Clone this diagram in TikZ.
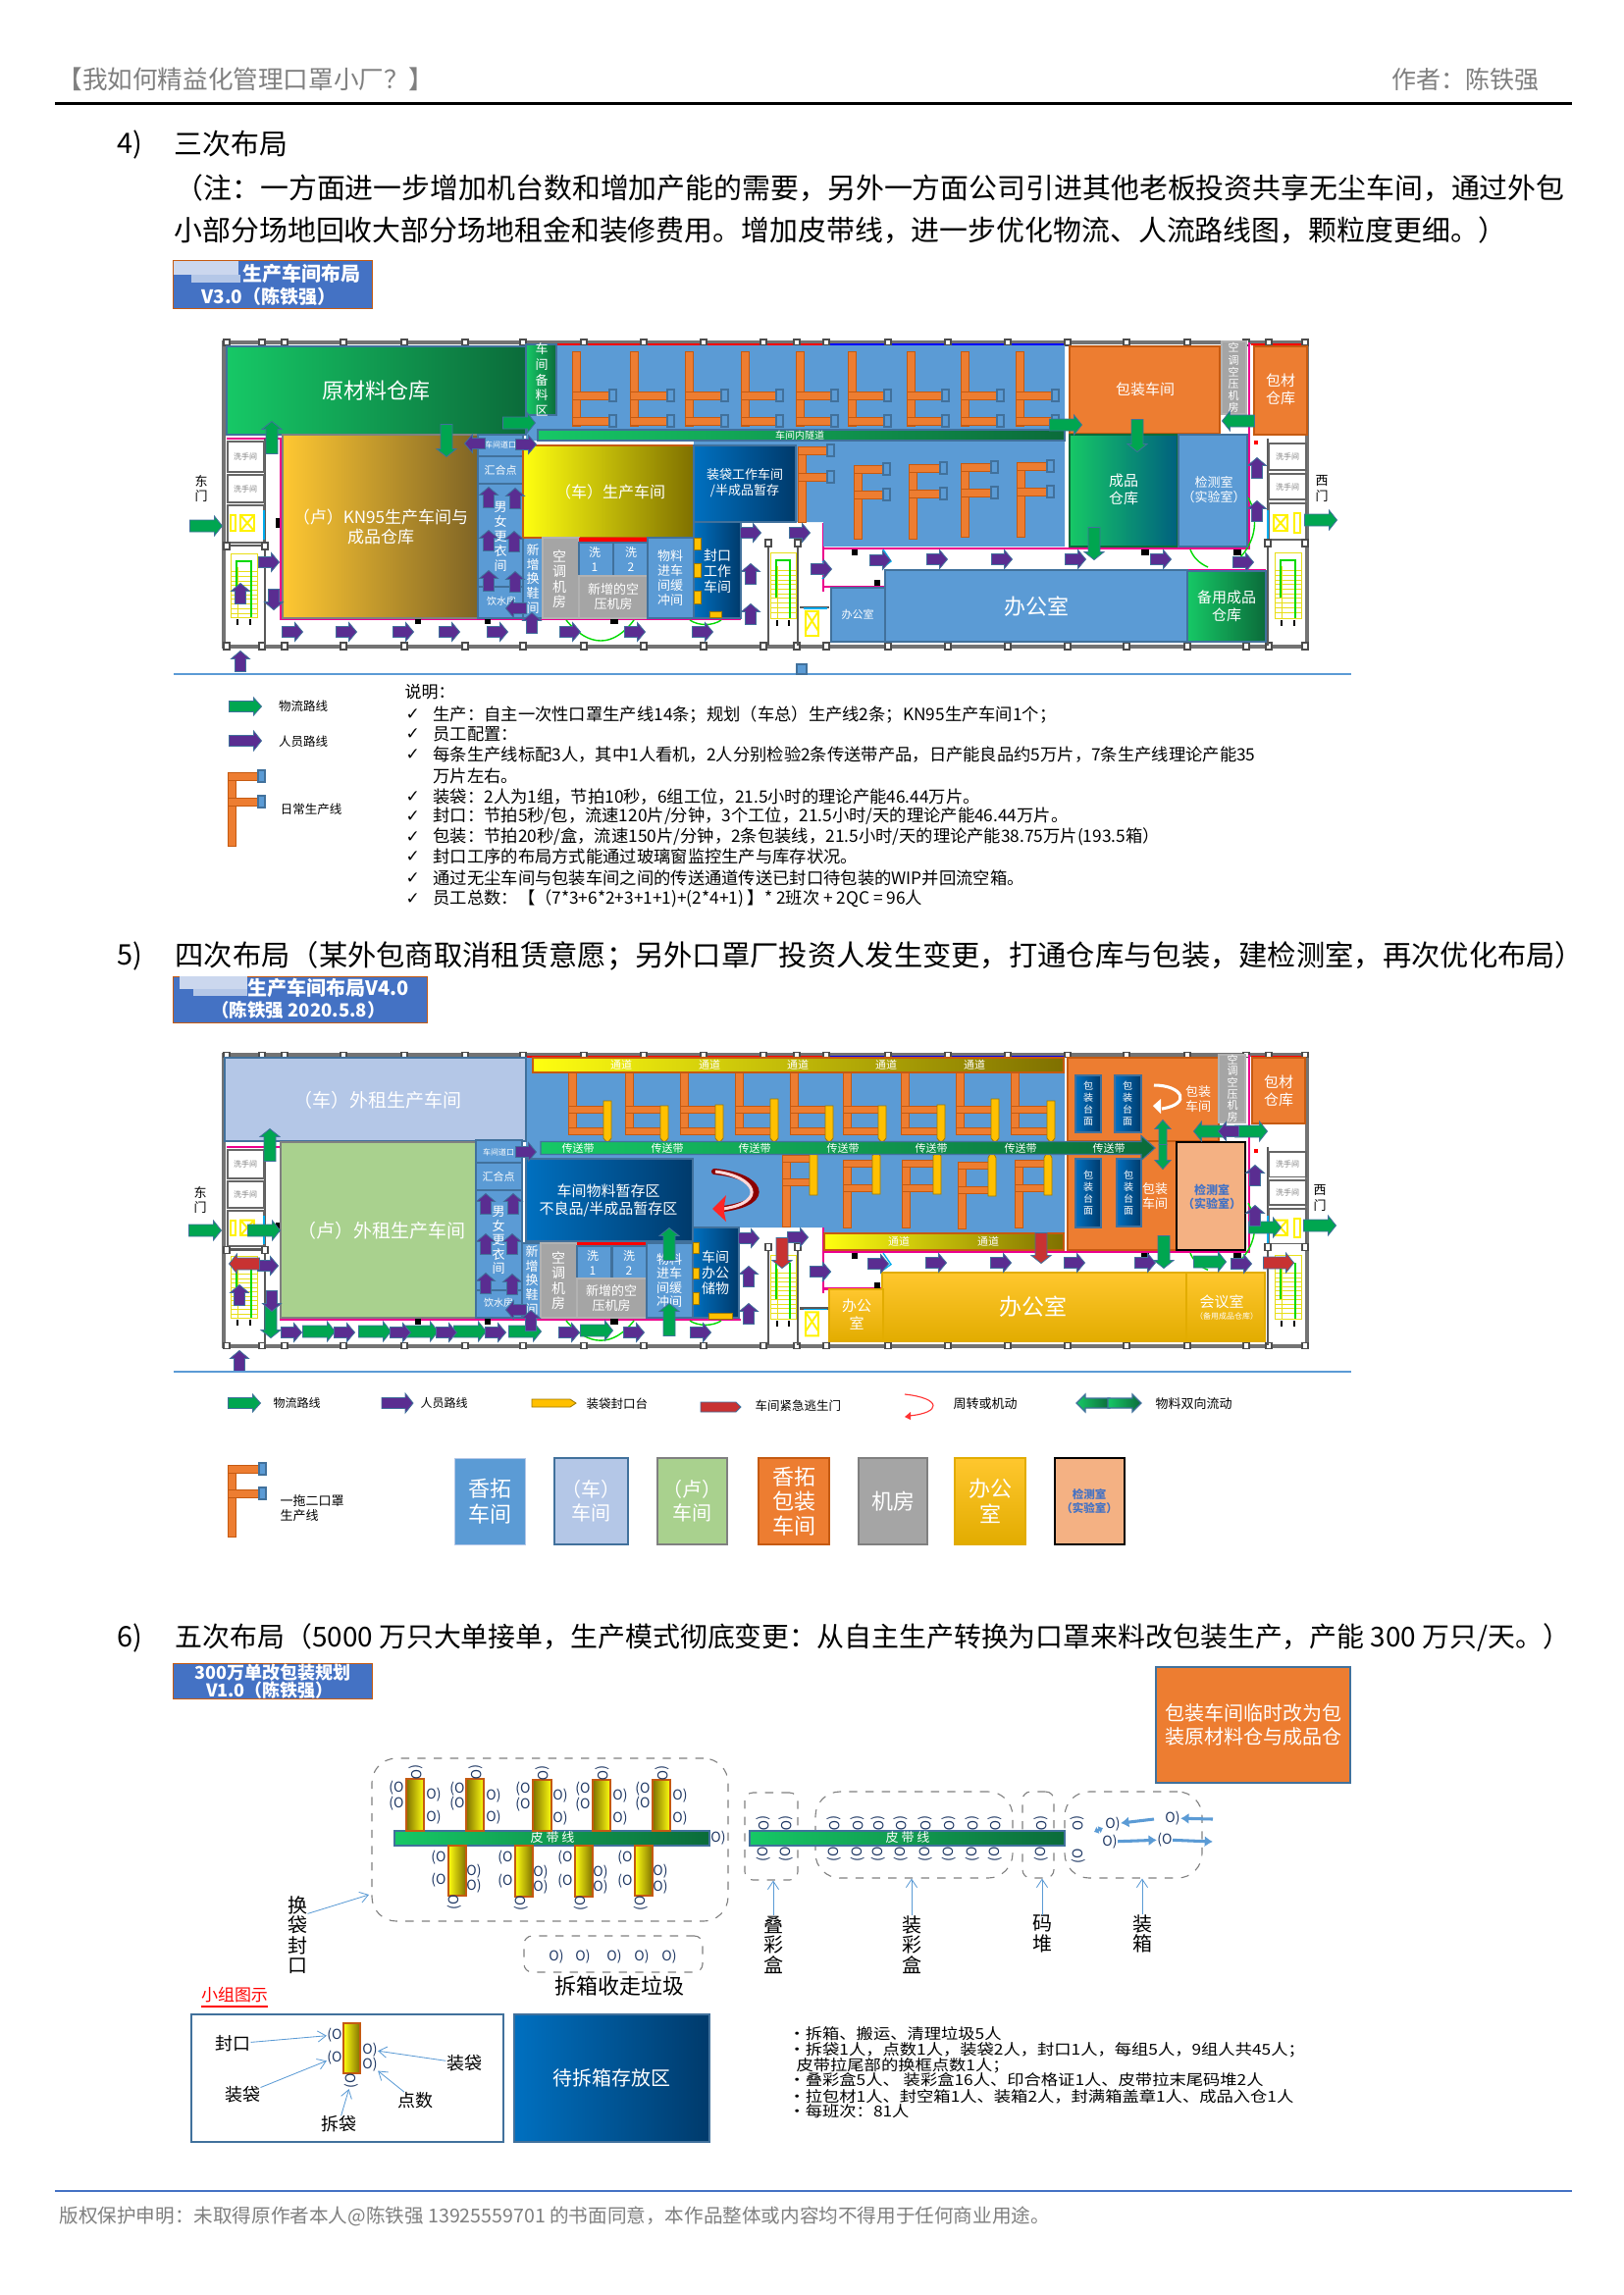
\documentclass[tikz,border=0pt]{standalone}
\usepackage{fontspec}
\setmainfont{Noto Sans CJK SC}
\newfontfamily\symfont{DejaVu Sans}
\newfontfamily\widefont{Noto Sans CJK SC}[FakeStretch=1.13]
\usetikzlibrary{fit,arrows.meta}

\definecolor{roomblue}{HTML}{5B9BD5}
\definecolor{edgeblue}{HTML}{41719C}
\definecolor{barorange}{HTML}{ED7D31}
\definecolor{edgeorange}{HTML}{C55A11}
\definecolor{roomgray}{HTML}{A5A5A5}
\definecolor{deepblueA}{HTML}{0070C0}
\definecolor{deepblueB}{HTML}{003A6B}
\definecolor{greenA}{HTML}{16C866}
\definecolor{greenB}{HTML}{0B6B3A}
\definecolor{pathgreen}{HTML}{00A650}
\definecolor{pathpurple}{HTML}{5A2D91}
\definecolor{pathred}{HTML}{C83232}
\definecolor{titleblue}{HTML}{4472C4}
\definecolor{yellowA}{HTML}{FFFF10}
\definecolor{yellowB}{HTML}{7F7000}
\definecolor{goldA}{HTML}{FFC832}
\definecolor{goldB}{HTML}{7F6425}
\definecolor{stockB}{HTML}{00607F}
\definecolor{lilac}{HTML}{B4C7E7}
\definecolor{leaf}{HTML}{A9D18E}
\definecolor{peach}{HTML}{F4B183}
\definecolor{officeA}{HTML}{FFC72E}
\definecolor{officeB}{HTML}{E2AC00}
\definecolor{tabyellow}{HTML}{FFC000}
\definecolor{inkgray}{HTML}{7F7F7F}
\definecolor{persona}{HTML}{1F3864}

% sizes are given in pixels of the page
\newcommand{\fv}[2]{\fontsize{\fpeval{#2*0.36}}{\fpeval{#2*0.36*#1}}\selectfont}
\newcommand{\fs}[1]{\fv{1.2}{#1}}

\tikzset{
  txt/.style={inner sep=0pt,align=center},
  wtxt/.style={txt,text=white},
  ltxt/.style={inner sep=0pt,anchor=west},
  head/.style={ltxt,font=\fs{28.9}},
  note/.style={ltxt,font=\fs{17.3}},
  staff/.style={ltxt,font=\widefont\fs{15.3}},
  tick/.style={ltxt,font=\symfont\fs{17}},
  blueroom/.style={fill=roomblue,draw=edgeblue,line width=0.5pt},
  grayroom/.style={fill=roomgray,draw=white!70!black,line width=0.4pt},
  orangeroom/.style={fill=barorange,draw=edgeorange,line width=0.5pt},
  deeproom/.style={left color=deepblueA,right color=deepblueB,draw=edgeblue,line width=0.5pt},
  greenroom/.style={left color=greenA,right color=greenB,draw=edgeblue,line width=0.4pt},
  stockroom/.style={left color=greenA,right color=stockB,draw=greenB,line width=0.4pt},
  yellowroom/.style={left color=yellowA,right color=yellowB,draw=edgeorange,line width=0.5pt},
  goldroom/.style={left color=goldA,right color=goldB,draw=gray,line width=0.4pt},
  officeroom/.style={top color=officeA,bottom color=officeB,draw=officeB,line width=0.4pt},
  titlebox/.style={fill=titleblue,draw=edgeorange,line width=0.3pt},
  wall/.style={draw=gray!90!black,line width=1.5pt},
  innerwall/.style={draw=black!65,line width=1pt},
  postbox/.style={fill=white,draw=black!70,line width=0.4pt},
  cellbox/.style={fill=white,draw=black!60,line width=0.7pt},
  pinkline/.style={draw=magenta,line width=0.8pt},
  doorarc/.style={draw=green!85!black,line width=0.5pt},
  cyanline/.style={draw=cyan,line width=0.5pt},
  stairline/.style={draw=yellow!90!black,line width=0.35pt},
  orangebar/.style={fill=barorange,draw=edgeorange,line width=0.3pt},
  bluetab/.style={fill=roomblue,draw=edgeblue,line width=0.4pt},
  yellowtab/.style={fill=tabyellow,draw=officeB!70!black,line width=0.3pt},
  greenarrow/.style={fill=pathgreen,draw=edgeblue,line width=0.3pt},
  purplearrow/.style={fill=pathpurple,draw=edgeblue,line width=0.3pt},
  redarrow/.style={fill=pathred,draw=edgeblue,line width=0.3pt},
  rule/.style={draw=roomblue,line width=0.4pt},
  dashgrp/.style={draw=gray,dashed,rounded corners=9pt,line width=0.4pt,inner sep=0pt},
  dashbox/.style={draw=gray,dashed,rounded corners=3pt,line width=0.4pt,inner sep=0pt},
  thinarrow/.style={draw=roomblue,line width=0.3pt,-{Straight Barb[length=3pt,width=4pt]}},
  boxarrow/.style={draw=roomblue,line width=1.1pt,-{Latex[length=3pt,width=4pt]}},
  swaparrow/.style={draw=roomblue,line width=1.1pt,{Latex[length=1.5pt,width=3pt]}-{Latex[length=1.5pt,width=3pt]}},
  person/.style={inner sep=0pt,font=\fs{14},text=persona},
  band/.style={left color=greenA,right color=greenB,draw=edgeblue,line width=0.4pt},
  olivebar/.style={left color=yellowB,right color=yellowA,draw=edgeorange,line width=0.4pt},
  olivebarb/.style={left color=yellowA,right color=yellowB,draw=edgeorange,line width=0.4pt}
}

% block arrow: style, centre x, centre y, angle, length, head width, shaft width, head length
\newcommand{\blockarrow}[8]{
  \draw[#1,shift={(#2,#3)},rotate=#4] (-#5/2,-#7/2) -- (#5/2-#8,-#7/2) -- (#5/2-#8,-#6/2) -- (#5/2,0) -- (#5/2-#8,#6/2) -- (#5/2-#8,#7/2) -- (-#5/2,#7/2) -- cycle;
}
\newcommand{\parrow}[3]{\blockarrow{purplearrow}{#1}{#2}{#3}{21}{19}{11}{8}}
\newcommand{\garrow}[3]{\blockarrow{greenarrow}{#1}{#2}{#3}{33}{20}{12}{8}}
\newcommand{\rarrow}[3]{\blockarrow{redarrow}{#1}{#2}{#3}{31}{20}{12}{8}}

% production line with blue tabs: x, top, bottom, bar 1, bar 2, end of bars
\newcommand{\lineblue}[6]{
  \draw[orangebar] (#1,#2) rectangle (#1+8,#3);
  \draw[orangebar] (#1,#4) rectangle (#6,#4+8);
  \draw[orangebar] (#1,#5) rectangle (#6,#5+8);
  \draw[bluetab] (#6,#4-2) rectangle (#6+7,#4+10);
  \draw[bluetab] (#6,#5-2) rectangle (#6+7,#5+10);
}
% the same with one yellow tab: x, top, bottom, bar 1, bar 2, end of bars, tab top, tab bottom, tip
\newcommand{\lineyellow}[9]{
  \draw[orangebar] (#1,#2) rectangle (#1+8,#3);
  \draw[orangebar] (#1,#4) rectangle (#6,#4+7);
  \draw[orangebar] (#1,#5) rectangle (#6,#5+7);
  \draw[yellowtab] (#6,#7) -- (#6+8,#7) -- (#6+8,#8) -- (#6+4,#9) -- (#6,#8) -- cycle;
}

% stairs: x1, y1, x2, y2
\newcommand{\stairs}[4]{
  \draw[stairline] (#1,#2) rectangle (#3,#4);
  \foreach \k in {1,...,10} \draw[stairline] (#1,#2+14+\k*4.7) -- (#3,#2+14+\k*4.7);
  \draw[stairline] (#1+7,#2+14) -- (#1+7,#4);
  \draw[stairline] (#3-7,#2+14) -- (#3-7,#4);
  \draw[doorarc] (#1+6,#2+46) -- (#1+6,#2+8) -- (#3-6,#2+8) -- (#3-6,#4);
  \draw[black,line width=0.4pt] (#1+7,#4+2) -- (#1+7,#4+8);
  \draw[black,line width=0.4pt] (#3-7,#4+2) -- (#3-7,#4+8);
}

% walls and corridors that both plans share, in coordinates of the first plan
\newcommand{\planbase}{
  \draw[wall] (228,349) rectangle (1332,659);
  \draw[red,line width=0.8pt] (536,351) -- (842,351);
  \draw[blue,line width=0.8pt] (842,351) -- (1085,351);
  \draw[red,line width=0.8pt] (1275,351) -- (1330,351);
  \foreach \x in {231,267,290,350,412,474,533,595,656,717,778,812,842,905,966,1027,1088,1148,1210,1270,1293,1330} {
    \draw[postbox] (\x-3,346) rectangle (\x+3,352);
    \draw[postbox] (\x-3,655) rectangle (\x+3,662);
  }
  \draw[pinkline] (231,447) -- (286,447) -- (286,631) -- (755,631);
  \draw[pinkline] (839,533) -- (839,603);
  \draw[pinkline] (839,559) -- (1273,559) -- (1273,349);
  \draw[pinkline] (839,598) -- (902,598);
  \draw[pinkline] (902,581) -- (1290,581);
  \draw[innerwall] (270,447) -- (270,658);
  \draw[innerwall] (231,556) -- (270,556);
  \draw[cellbox] (232,450) rectangle (269,481);
  \draw[cellbox] (232,484) rectangle (269,512);
  \draw[cellbox] (232,515) rectangle (269,553);
  \node[txt,font=\fs{8},text=gray] (lwcA) at (250,465) {洗手间};
  \node[txt,font=\fs{8},text=gray] (lwcB) at (250,498) {洗手间};
  \draw[yellow,line width=0.7pt] (235,525) rectangle (240,541);
  \draw[yellow,line width=0.7pt] (245,525) rectangle (259,541) (245,525) -- (259,541) (245,541) -- (259,525);
  \draw[cyanline] (269,520) -- (269,550);
  \fill[black] (281,528) rectangle (285,538);
  \draw[postbox] (228,553) rectangle (234,560);
  \draw[postbox] (267,553) rectangle (273,560);
  \stairs{235}{564}{262}{629}
  \draw[innerwall] (783,553) -- (783,658);
  \draw[innerwall] (813,553) -- (813,658);
  \draw[postbox] (780,550) rectangle (786,557);
  \draw[postbox] (810,550) rectangle (816,557);
  \stairs{785}{563}{811}{630}
  \draw[innerwall] (815,619) -- (845,619);
  \draw[cyanline] (819,620) -- (843,620);
  \draw[yellow,line width=0.7pt] (821,623) rectangle (834,648) (821,623) -- (834,643) (821,643) -- (834,623);
  \draw[innerwall] (1292,447) -- (1292,658);
  \draw[cellbox] (1293,452) rectangle (1331,479);
  \draw[cellbox] (1293,483) rectangle (1331,509);
  \draw[cellbox] (1293,513) rectangle (1331,550);
  \node[txt,font=\fs{8},text=gray] (rwcA) at (1312,465) {洗手间};
  \node[txt,font=\fs{8},text=gray] (rwcB) at (1312,496) {洗手间};
  \draw[yellow,line width=0.7pt] (1298,525) rectangle (1312,541) (1298,525) -- (1312,541) (1298,541) -- (1312,525);
  \draw[yellow,line width=0.7pt] (1319,523) rectangle (1325,543);
  \draw[cyanline] (1292,520) -- (1292,550);
  \draw[postbox] (1289,550) rectangle (1295,557);
  \draw[postbox] (1327,550) rectangle (1333,557);
  \stairs{1299}{563}{1326}{630}
  \draw[doorarc] (577,632) .. controls (600,660) and (625,660) .. (646,632);
  \draw[doorarc] (703,632) .. controls (712,638) and (726,638) .. (735,632);
  \draw[doorarc] (1213,560) .. controls (1216,568) and (1222,574) .. (1231,578);
  \draw[doorarc] (1272,507) .. controls (1282,525) and (1282,550) .. (1262,570);
  \fill[black] (423,630) rectangle (429,636);
  \fill[black] (494,630) rectangle (500,636);
  \fill[black] (622,630) rectangle (630,636);
  \fill[black] (868,560) rectangle (874,566);
  \fill[black] (1163,560) rectangle (1171,566);
  \fill[black] (1257,560) rectangle (1265,566);
  \fill[black] (891,591) rectangle (897,597);
  \fill[red] (1278,449) rectangle (1282,453);
  \draw[cyanline] (900,560) -- (908,572) -- (900,578);
  \draw[cyanline] (838,572) -- (846,580) -- (838,590);
}

\begin{document}
\begin{tikzpicture}[x=0.36pt,y=-0.36pt]
  \useasboundingbox (0,0) rectangle (1654,2339);
  \fill[white] (0,0) rectangle (1654,2339);

  % page head
  \node[ltxt,font=\fs{25.6},text=inkgray] (pagetitle) at (58,81) {【我如何精益化管理口罩小厂？】};
  \node[ltxt,font=\fs{25},text=inkgray] (pageauthor) at (1418,81) {作者：陈铁强};
  \fill[black] (56,104) rectangle (1602,107);

  % section 4
  \node[head] (secA) at (119,147) {4)};
  \node[head] (secAt) at (177,147) {三次布局};
  \node[head] (secAa) at (178,192) {（注：一方面进一步增加机台数和增加产能的需要，另外一方面公司引进其他老板投资共享无尘车间，通过外包};
  \node[head] (secAb) at (177,235) {小部分场地回收大部分场地租金和装修费用。增加皮带线，进一步优化物流、人流路线图，颗粒度更细。）};
  \draw[titlebox] (176,265) rectangle (379,314);
  \fill[white!72!titleblue] (177,266) rectangle (243,280);
  \fill[white!60!titleblue] (195,280) rectangle (245,288);
  \node[wtxt,font=\bfseries\fs{20}] (boxAa) at (307,279) {生产车间布局};
  \node[wtxt,font=\bfseries\fs{19}] (boxAb) at (274,302) {V3.0（陈铁强）};

  % plan one
  \planbase
  \fill[roomblue] (536,352) -- (1085,352) -- (1085,557) -- (839,557) -- (839,532) -- (707,532) -- (707,449) -- (536,449) -- cycle;
  \lineblue{583}{358}{434}{399}{425}{621}
  \lineblue{642}{358}{434}{399}{425}{680}
  \lineblue{698}{358}{434}{399}{425}{735}
  \lineblue{755}{358}{434}{399}{425}{791}
  \lineblue{811}{358}{434}{399}{425}{847}
  \lineblue{864}{358}{434}{399}{425}{901}
  \lineblue{924}{358}{434}{399}{425}{960}
  \lineblue{979}{358}{434}{399}{425}{1016}
  \lineblue{1035}{358}{434}{399}{425}{1072}
  \lineblue{813}{455}{532}{455}{482}{843}
  \lineblue{870}{474}{549}{474}{500}{900}
  \lineblue{926}{473}{549}{473}{499}{958}
  \lineblue{979}{472}{547}{472}{498}{1010}
  \lineblue{1036}{471}{547}{471}{497}{1067}
  \draw[greenroom] (231,353) rectangle (536,443);
  \node[wtxt,font=\fs{22}] (rawstore) at (383,398) {原材料仓库};
  \draw[greenroom] (536,351) rectangle (567,423);
  \node[wtxt,font=\fv{1.2}{13}] (sparearea) at (552,387) {车\\间\\备\\料\\区};
  \draw[greenroom] (548,438) rectangle (1085,449);
  \node[wtxt,font=\fs{10}] (tunnelA) at (815,444) {车间内隧道};
  \draw[goldroom] (288,443) rectangle (487,630);
  \node[wtxt,font=\fs{17}] (kn95) at (388,537) {（卢）KN95生产车间与\\成品仓库};
  \draw[blueroom] (487,443) rectangle (533,465);
  \node[wtxt,font=\fs{8}] (portA) at (510,453) {车间道口};
  \draw[blueroom] (487,465) rectangle (533,493);
  \node[wtxt,font=\fs{11}] (meetA) at (510,479) {汇合点};
  \draw[blueroom] (487,493) rectangle (533,598);
  \node[wtxt,font=\fv{1.15}{13}] (lockerA) at (510,547) {男\\女\\更\\衣\\间};
  \draw[blueroom] (487,598) rectangle (533,630);
  \node[wtxt,font=\fs{10}] (waterA) at (511,613) {饮水房};
  \draw[blueroom] (533,548) rectangle (553,630);
  \node[wtxt,font=\fv{1.15}{13}] (shoesA) at (543,590) {新\\增\\换\\鞋\\间};
  \draw[yellowroom] (533,454) rectangle (707,548);
  \node[wtxt,font=\fs{16}] (workshopA) at (622,501) {（车）生产车间};
  \draw[deeproom] (707,454) rectangle (811,532);
  \node[wtxt,font=\fs{13}] (baggingA) at (759,492) {装袋工作车间\\/半成品暂存};
  \draw[grayroom] (553,548) rectangle (590,630);
  \node[wtxt,font=\fv{1.1}{14}] (acA) at (570,590) {空\\调\\机\\房};
  \fill[red] (590,548) rectangle (660,553);
  \draw[blueroom] (590,553) rectangle (625,587);
  \node[wtxt,font=\fs{12}] (washAa) at (606,570) {洗\\1};
  \draw[blueroom] (625,553) rectangle (660,587);
  \node[wtxt,font=\fs{12}] (washAb) at (643,570) {洗\\2};
  \draw[grayroom] (590,587) rectangle (660,630);
  \node[wtxt,font=\fs{13}] (compA) at (625,608) {新增的空\\压机房};
  \draw[blueroom] (660,548) rectangle (707,630);
  \node[wtxt,font=\fv{1.15}{13}] (bufferA) at (683,589) {物料\\进车\\间缓\\冲间};
  \draw[deeproom] (707,532) rectangle (755,630);
  \node[wtxt,font=\fv{1.15}{14}] (sealA) at (731,582) {封口\\工作\\车间};
  \draw[yellowtab] (707,548) rectangle (714,560);
  \draw[yellowtab] (707,574) rectangle (714,588);
  \draw[yellowtab] (707,602) rectangle (714,615);
  \draw[yellowtab] (723,623) rectangle (735,629);
  \draw[orangeroom] (1090,353) rectangle (1243,442);
  \node[wtxt,font=\fs{15}] (packA) at (1167,397) {包装车间};
  \draw[grayroom] (1245,348) rectangle (1270,422);
  \node[wtxt,font=\fv{1.1}{11}] (acpA) at (1257,385) {空\\调\\空\\压\\机\\房};
  \draw[orangeroom] (1278,353) rectangle (1332,443);
  \node[wtxt,font=\fs{15}] (matA) at (1305,397) {包材\\仓库};
  \draw[stockroom] (1090,443) rectangle (1200,557);
  \node[wtxt,font=\fs{15}] (stockA) at (1145,499) {成品\\仓库};
  \draw[blueroom] (1201,443) rectangle (1271,557);
  \node[wtxt,font=\fs{13}] (labA) at (1237,499) {检测室\\（实验室）};
  \draw[blueroom] (847,599) rectangle (902,654);
  \node[wtxt,font=\fs{11}] (officeAs) at (874,626) {办公室};
  \draw[blueroom] (902,581) rectangle (1210,654);
  \node[wtxt,font=\fs{22}] (officeA) at (1056,618) {办公室};
  \draw[greenroom] (1210,582) rectangle (1290,654);
  \node[wtxt,font=\fs{15}] (spareA) at (1250,618) {备用成品\\仓库};
  \node[txt,font=\fs{13}] (eastA) at (205,498) {东\\门};
  \node[txt,font=\fs{13}] (westA) at (1347,498) {西\\门};

  \garrow{210}{536}{0}
  \garrow{529}{431}{0}
  \garrow{1086}{433}{0}
  \garrow{1346}{530}{0}
  \garrow{277}{446}{90}
  \garrow{455}{449}{270}
  \garrow{1159}{444}{270}
  \garrow{1115}{554}{270}
  \garrow{1262}{429}{180}
  \parrow{298}{644}{0}
  \parrow{353}{644}{0}
  \parrow{411}{644}{0}
  \parrow{458}{644}{0}
  \parrow{507}{644}{0}
  \parrow{581}{644}{0}
  \parrow{647}{644}{0}
  \parrow{716}{644}{0}
  \parrow{765}{543}{0}
  \parrow{815}{543}{0}
  \parrow{274}{573}{0}
  \parrow{837}{580}{0}
  \parrow{897}{571}{0}
  \parrow{955}{570}{0}
  \parrow{1021}{570}{0}
  \parrow{1096}{570}{0}
  \parrow{1183}{570}{0}
  \parrow{1267}{573}{0}
  \parrow{536}{453}{0}
  \parrow{484}{452}{180}
  \parrow{526}{620}{180}
  \parrow{245}{605}{90}
  \parrow{498}{507}{90}
  \parrow{525}{508}{90}
  \parrow{498}{551}{90}
  \parrow{524}{552}{90}
  \parrow{498}{592}{90}
  \parrow{525}{593}{90}
  \parrow{542}{635}{90}
  \parrow{765}{585}{90}
  \parrow{765}{626}{90}
  \parrow{245}{674}{90}
  \parrow{1281}{477}{90}
  \parrow{1281}{521}{90}
  \parrow{279}{611}{270}

  % legend of plan one
  \draw[rule] (177,687) -- (1377,687);
  \fill[roomblue,draw=edgeblue] (812,677) rectangle (822,687);
  \blockarrow{greenarrow}{250}{720}{0}{33}{18}{11}{8}
  \blockarrow{purplearrow}{250}{755}{0}{33}{20}{11}{8}
  \node[txt,font=\fs{12.5}] (legAa) at (309,720) {物流路线};
  \node[txt,font=\fs{12.5}] (legAb) at (309,756) {人员路线};
  \lineblue{232}{787}{862}{787}{813}{263}
  \node[txt,font=\fs{12.5}] (legAc) at (317,825) {日常生产线};
  \node[ltxt,font=\fs{17}] (noteA) at (412,705) {说明：};
  \node[tick] (tickA) at (413,728) {✓};
  \node[note] (noteB) at (441,728) {生产：自主一次性口罩生产线14条；规划（车总）生产线2条；KN95生产车间1个；};
  \node[tick] (tickB) at (413,748) {✓};
  \node[note] (noteC) at (441,748) {员工配置：};
  \node[tick] (tickC) at (413,769) {✓};
  \node[note] (noteD) at (441,769) {每条生产线标配3人，其中1人看机，2人分别检验2条传送带产品，日产能良品约5万片，7条生产线理论产能35};
  \node[note] (noteE) at (441,791) {万片左右。};
  \node[tick] (tickD) at (413,812) {✓};
  \node[note] (noteF) at (441,812) {装袋：2人为1组，节拍10秒，6组工位，21.5小时的理论产能46.44万片。};
  \node[tick] (tickE) at (413,832) {✓};
  \node[note] (noteG) at (441,832) {封口：节拍5秒/包，流速120片/分钟，3个工位，21.5小时/天的理论产能46.44万片。};
  \node[tick] (tickF) at (413,853) {✓};
  \node[note] (noteH) at (441,853) {包装：节拍20秒/盒，流速150片/分钟，2条包装线，21.5小时/天的理论产能38.75万片(193.5箱）};
  \node[tick] (tickG) at (413,873) {✓};
  \node[note] (noteI) at (441,873) {封口工序的布局方式能通过玻璃窗监控生产与库存状况。};
  \node[tick] (tickH) at (413,895) {✓};
  \node[note] (noteJ) at (441,895) {通过无尘车间与包装车间之间的传送通道传送已封口待包装的WIP并回流空箱。};
  \node[tick] (tickI) at (413,916) {✓};
  \node[note] (noteK) at (441,916) {员工总数：【（7*3+6*2+3+1+1)+(2*4+1) 】* 2班次 + 2QC = 96人};

  % section 5
  \node[head] (secB) at (119,974) {5)};
  \node[head,font=\fs{29.3}] (secBt) at (178,974) {四次布局（某外包商取消租赁意愿；另外口罩厂投资人发生变更，打通仓库与包装，建检测室，再次优化布局）};
  \draw[titlebox] (176,995) rectangle (435,1042);
  \fill[white!72!titleblue] (183,995) rectangle (252,1008);
  \fill[white!60!titleblue] (197,1008) rectangle (252,1015);
  \node[wtxt,font=\bfseries\fs{20}] (boxBa) at (335,1007) {生产车间布局V4.0};
  \node[wtxt,font=\bfseries\fs{18.5}] (boxBb) at (304,1029) {（陈铁强 2020.5.8）};

  % plan two
  \begin{scope}[shift={(0,740.6)},yscale=0.958]
    \planbase
  \end{scope}
  \fill[roomblue] (536,1078) -- (1085,1078) -- (1085,1257) -- (840,1257) -- (840,1251) -- (706,1251) -- (706,1181) -- (536,1181) -- cycle;
  \lineyellow{579}{1093}{1156}{1127}{1149}{615}{1122}{1160}{1165}
  \lineyellow{637}{1093}{1156}{1127}{1149}{673}{1127}{1160}{1165}
  \lineyellow{693}{1093}{1156}{1127}{1149}{729}{1126}{1160}{1165}
  \lineyellow{749}{1093}{1156}{1127}{1149}{785}{1120}{1160}{1165}
  \lineyellow{805}{1093}{1156}{1127}{1149}{841}{1127}{1160}{1165}
  \lineyellow{859}{1093}{1156}{1127}{1149}{895}{1127}{1160}{1165}
  \lineyellow{918}{1093}{1156}{1127}{1149}{955}{1126}{1160}{1165}
  \lineyellow{974}{1093}{1156}{1127}{1149}{1010}{1120}{1160}{1165}
  \lineyellow{1030}{1093}{1156}{1127}{1149}{1067}{1122}{1160}{1165}
  \lineyellow{797}{1177}{1250}{1177}{1201}{825}{1218}{1176}{1168}
  \lineyellow{859}{1182}{1251}{1182}{1207}{889}{1217}{1178}{1171}
  \lineyellow{919}{1182}{1251}{1182}{1207}{951}{1217}{1178}{1171}
  \lineyellow{976}{1184}{1252}{1184}{1209}{1007}{1219}{1180}{1172}
  \lineyellow{1034}{1182}{1251}{1182}{1207}{1064}{1218}{1180}{1172}
  \draw[yellowroom] (543,1078) rectangle (1084,1093);
  \node[wtxt,font=\fs{11}] (passA) at (633,1085) {通道};
  \node[wtxt,font=\fs{11}] (passB) at (723,1085) {通道};
  \node[wtxt,font=\fs{11}] (passC) at (813,1085) {通道};
  \node[wtxt,font=\fs{11}] (passD) at (903,1085) {通道};
  \node[wtxt,font=\fs{11}] (passE) at (993,1085) {通道};
  \draw[yellowroom] (840,1257) rectangle (1084,1274);
  \node[wtxt,font=\fs{11}] (passF) at (916,1265) {通道};
  \node[wtxt,font=\fs{11}] (passG) at (1007,1265) {通道};
  \draw[orangeroom] (1088,1078) rectangle (1242,1163);
  \draw[orangeroom] (1088,1163) rectangle (1199,1274);
  \draw[fill=lilac,draw=edgeblue,line width=0.4pt] (229,1078) rectangle (536,1163);
  \node[wtxt,font=\fs{19}] (rentA) at (385,1121) {（车）外租生产车间};
  \draw[fill=leaf,draw=gray,line width=0.4pt] (286,1164) rectangle (485,1343);
  \node[wtxt,font=\fs{19}] (rentB) at (389,1254) {（卢）外租生产车间};
  \draw[blueroom] (485,1162) rectangle (532,1185);
  \node[wtxt,font=\fs{8}] (portB) at (508,1174) {车间道口};
  \draw[blueroom] (485,1185) rectangle (532,1213);
  \node[wtxt,font=\fs{11}] (meetB) at (508,1199) {汇合点};
  \draw[blueroom] (485,1213) rectangle (532,1315);
  \node[wtxt,font=\fv{1.12}{13}] (lockerB) at (508,1264) {男\\女\\更\\衣\\间};
  \draw[blueroom] (485,1315) rectangle (532,1343);
  \node[wtxt,font=\fs{10}] (waterB) at (508,1328) {饮水房};
  \draw[blueroom] (532,1267) rectangle (551,1343);
  \node[wtxt,font=\fv{1.15}{13}] (shoesB) at (542,1305) {新\\增\\换\\鞋\\间};
  \draw[deeproom] (536,1181) rectangle (706,1265);
  \node[wtxt,font=\fs{15}] (tempB) at (620,1223) {车间物料暂存区\\不良品/半成品暂存区};
  \draw[grayroom] (551,1267) rectangle (588,1343);
  \node[wtxt,font=\fv{1.1}{14}] (acB) at (569,1305) {空\\调\\机\\房};
  \fill[red] (588,1266) rectangle (659,1270);
  \draw[blueroom] (588,1270) rectangle (623,1303);
  \node[wtxt,font=\fs{12}] (washBa) at (604,1287) {洗\\1};
  \draw[blueroom] (624,1270) rectangle (659,1303);
  \node[wtxt,font=\fs{12}] (washBb) at (641,1287) {洗\\2};
  \draw[grayroom] (588,1303) rectangle (659,1343);
  \node[wtxt,font=\fs{13}] (compB) at (623,1323) {新增的空\\压机房};
  \draw[blueroom] (659,1267) rectangle (706,1343);
  \node[wtxt,font=\fv{1.12}{13}] (bufferB) at (682,1305) {物料\\进车\\间缓\\冲间};
  \draw[deeproom] (706,1251) rectangle (753,1343);
  \node[wtxt,font=\fv{1.15}{14}] (sealB) at (729,1297) {车间\\办公\\储物};
  \draw[yellowtab] (706,1266) rectangle (712,1277);
  \draw[yellowtab] (706,1292) rectangle (712,1303);
  \draw[yellowtab] (706,1317) rectangle (712,1329);
  \draw[yellowtab] (722,1338) rectangle (746,1344);
  \draw[line width=2.2pt,red!55!black,line cap=round] (728,1194) .. controls (775,1198) and (790,1225) .. (737,1232);
  \draw[line width=1.1pt,white!85!red] (729,1194) .. controls (770,1199) and (783,1225) .. (737,1232);
  \fill[red!85!white] (726,1232) -- (740,1218) -- (738,1229) -- (738,1236) -- (740,1245) -- cycle;
  \draw[deeproom] (1096,1096) rectangle (1122,1154);
  \node[wtxt,font=\fs{10}] (tableA) at (1109,1125) {包\\装\\台\\面};
  \draw[deeproom] (1136,1096) rectangle (1163,1154);
  \node[wtxt,font=\fs{10}] (tableB) at (1149,1125) {包\\装\\台\\面};
  \draw[deeproom] (1096,1181) rectangle (1122,1251);
  \node[wtxt,font=\fs{10}] (tableC) at (1109,1216) {包\\装\\台\\面};
  \draw[deeproom] (1138,1181) rectangle (1163,1250);
  \node[wtxt,font=\fs{10}] (tableD) at (1150,1216) {包\\装\\台\\面};
  \node[wtxt,font=\fs{13}] (packBa) at (1221,1120) {包装\\车间};
  \node[wtxt,font=\fs{13}] (packBb) at (1177,1219) {包装\\车间};
  \draw[line width=1.1pt,white] (1176,1106) .. controls (1205,1106) and (1215,1125) .. (1184,1130);
  \fill[white] (1175,1127) -- (1183,1120) -- (1183,1135) -- cycle;
  \draw[fill=peach,draw=black,line width=0.8pt] (1199,1164) rectangle (1269,1274);
  \node[txt,font=\bfseries\fs{12},text=titleblue] (labB) at (1235,1220) {检测室\\（实验室）};
  \draw[grayroom] (1242,1075) rectangle (1269,1144);
  \node[wtxt,font=\fv{1.05}{11}] (acpB) at (1256,1109) {空\\调\\空\\压\\机\\房};
  \draw[orangeroom] (1276,1078) rectangle (1330,1145);
  \node[wtxt,font=\fs{15}] (matB) at (1303,1112) {包材\\仓库};
  \draw[officeroom] (899,1297) rectangle (1209,1367);
  \node[wtxt,font=\fs{23}] (officeB) at (1053,1332) {办公室};
  \draw[officeroom] (845,1314) rectangle (900,1367);
  \node[wtxt,font=\fs{15}] (officeBs) at (873,1340) {办公\\室};
  \draw[officeroom] (1209,1297) rectangle (1289,1367);
  \node[wtxt,font=\fs{15}] (meetroom) at (1245,1327) {会议室};
  \node[wtxt,font=\fs{8}] (meetnote) at (1250,1341) {（备用成品仓库）};
  \blockarrow{band}{864}{1170}{0}{626}{25}{13}{14}
  \node[wtxt,font=\fs{11}] (beltA) at (589,1170) {传送带};
  \node[wtxt,font=\fs{11}] (beltB) at (680,1170) {传送带};
  \node[wtxt,font=\fs{11}] (beltC) at (769,1170) {传送带};
  \node[wtxt,font=\fs{11}] (beltD) at (859,1170) {传送带};
  \node[wtxt,font=\fs{11}] (beltE) at (949,1170) {传送带};
  \node[wtxt,font=\fs{11}] (beltF) at (1040,1170) {传送带};
  \node[wtxt,font=\fs{11}] (beltG) at (1130,1170) {传送带};
  \node[txt,font=\fs{13}] (eastB) at (204,1223) {东\\门};
  \node[txt,font=\fs{13}] (westB) at (1345,1221) {西\\门};

  \garrow{209}{1254}{0}
  \garrow{269}{1254}{0}
  \garrow{325}{1357}{0}
  \garrow{382}{1357}{0}
  \garrow{430}{1357}{0}
  \garrow{479}{1357}{0}
  \garrow{535}{1357}{0}
  \garrow{608}{1356}{0}
  \garrow{1289}{1251}{0}
  \garrow{1233}{1286}{0}
  \garrow{1345}{1249}{0}
  \garrow{275}{1167}{90}
  \garrow{682}{1268}{90}
  \garrow{682}{1345}{90}
  \garrow{276}{1347}{270}
  \garrow{1186}{1276}{270}
  \garrow{1233}{1153}{180}
  \garrow{1275}{1153}{0}
  \blockarrow{greenarrow}{1185}{1154}{90}{25}{16}{8}{9}
  \blockarrow{greenarrow}{1185}{1179}{270}{25}{16}{8}{9}
  \parrow{297}{1358}{0}
  \parrow{351}{1358}{0}
  \parrow{408}{1358}{0}
  \parrow{455}{1358}{0}
  \parrow{505}{1358}{0}
  \parrow{580}{1358}{0}
  \parrow{646}{1358}{0}
  \parrow{714}{1358}{0}
  \parrow{763}{1262}{0}
  \parrow{813}{1261}{0}
  \parrow{836}{1296}{0}
  \parrow{273}{1290}{0}
  \parrow{536}{1174}{0}
  \parrow{895}{1288}{0}
  \parrow{954}{1287}{0}
  \parrow{1020}{1287}{0}
  \parrow{1095}{1287}{0}
  \parrow{1167}{1287}{0}
  \parrow{1265}{1288}{0}
  \parrow{526}{1335}{180}
  \parrow{1252}{1153}{180}
  \parrow{244}{1320}{90}
  \parrow{495}{1227}{90}
  \parrow{523}{1227}{90}
  \parrow{495}{1268}{90}
  \parrow{522}{1268}{90}
  \parrow{495}{1308}{90}
  \parrow{522}{1309}{90}
  \parrow{541}{1346}{90}
  \parrow{763}{1301}{90}
  \parrow{763}{1339}{90}
  \parrow{244}{1387}{90}
  \parrow{1279}{1198}{90}
  \parrow{1279}{1239}{90}
  \parrow{277}{1326}{270}
  \rarrow{797}{1277}{270}
  \rarrow{1061}{1272}{270}
  \rarrow{249}{1288}{180}
  \rarrow{1303}{1287}{0}

  % legend of plan two
  \draw[rule] (177,1398) -- (1377,1398);
  \blockarrow{greenarrow}{249}{1430}{0}{33}{18}{11}{8}
  \node[ltxt,font=\fs{12}] (legBa) at (278,1430) {物流路线};
  \blockarrow{purplearrow}{405}{1430}{0}{32}{20}{11}{8}
  \node[ltxt,font=\fs{12}] (legBb) at (428,1430) {人员路线};
  \draw[yellowtab] (542,1426) -- (581,1426) -- (587,1430) -- (581,1434) -- (542,1434) -- cycle;
  \node[ltxt,font=\fs{12.5}] (legBc) at (597,1431) {装袋封口台};
  \draw[redarrow] (714,1429) -- (750,1429) -- (755,1434) -- (750,1439) -- (714,1439) -- cycle;
  \node[ltxt,font=\fs{12.5}] (legBd) at (769,1433) {车间紧急逃生门};
  \draw[red!80!white,line width=0.4pt] (922,1421) .. controls (960,1425) and (960,1440) .. (926,1443);
  \fill[red!80!white] (922,1444) -- (928,1439) -- (928,1447) -- cycle;
  \node[ltxt,font=\fs{13}] (legBe) at (971,1431) {周转或机动};
  \blockarrow{band}{1114}{1430}{180}{34}{18}{10}{9}
  \blockarrow{band}{1146}{1430}{0}{34}{18}{10}{9}
  \node[ltxt,font=\fs{13}] (legBf) at (1177,1431) {物料双向流动};
  \lineblue{232}{1493}{1566}{1493}{1518}{264}
  \node[ltxt,align=left,font=\fs{13}] (legBg) at (285,1537) {一拖二口罩\\生产线};
  \draw[fill=roomblue,draw=lilac,line width=0.3pt] (463,1486) rectangle (535,1574);
  \node[wtxt,font=\fs{22}] (keyA) at (499,1530) {香拓\\车间};
  \draw[fill=lilac,draw=edgeblue,line width=0.6pt] (565,1486) rectangle (640,1574);
  \node[wtxt,font=\fs{20}] (keyB) at (602,1530) {（车）\\车间};
  \draw[fill=leaf,draw=gray,line width=0.5pt] (670,1486) rectangle (741,1574);
  \node[wtxt,font=\fs{20}] (keyC) at (705,1530) {（卢）\\车间};
  \draw[orangeroom] (773,1486) rectangle (845,1574);
  \node[wtxt,font=\fv{1.12}{22}] (keyD) at (809,1530) {香拓\\包装\\车间};
  \draw[grayroom,draw=gray] (875,1486) rectangle (945,1574);
  \node[wtxt,font=\fs{22}] (keyE) at (910,1530) {机房};
  \draw[officeroom] (973,1486) rectangle (1045,1574);
  \node[wtxt,font=\fs{22}] (keyF) at (1009,1530) {办公\\室};
  \draw[fill=peach,draw=black,line width=0.8pt] (1075,1486) rectangle (1146,1574);
  \node[txt,font=\bfseries\fs{11.5},text=titleblue] (keyG) at (1110,1530) {检测室\\（实验室）};

  % section 6
  \node[head] (secC) at (119,1669) {6)};
  \node[head,font=\fs{27.9}] (secCt) at (178,1669) {五次布局（5000 万只大单接单，生产模式彻底变更：从自主生产转换为口罩来料改包装生产，产能 300 万只/天。）};
  \draw[titlebox] (176,1695) rectangle (379,1731);
  \node[wtxt,font=\bfseries\fs{18}] (boxCa) at (278,1705) {300万单改包装规划};
  \node[wtxt,font=\bfseries\fs{18}] (boxCb) at (275,1723) {V1.0（陈铁强）};
  \draw[orangeroom,draw=edgeblue] (1178,1699) rectangle (1376,1817);
  \node[wtxt,font=\fs{20}] (tempnote) at (1277,1758) {包装车间临时改为包\\装原材料仓与成品仓};

  % belts and their groups
  \node[dashgrp,fit={(379,1792) (742,1958)}] (grpChange) {};
  \node[dashbox,fit={(534,1973) (716,2010)}] (grpTrash) {};
  \node[dashbox,fit={(759,1827) (813,1916)}] (grpFold) {};
  \node[dashgrp,fit={(831,1826) (1032,1914)}] (grpColor) {};
  \node[dashbox,fit={(1042,1826) (1074,1914)}] (grpStack) {};
  \node[dashgrp,fit={(1085,1826) (1225,1914)}] (grpBox) {};
  \draw[band] (402,1866) rectangle (723,1881);
  \node[wtxt,font=\fs{13}] (beltP) at (563,1873) {皮 带 线};
  \draw[band] (764,1866) rectangle (1085,1881);
  \node[wtxt,font=\fs{13}] (beltQ) at (925,1873) {皮 带 线};
  \draw[olivebar] (414,1813) rectangle (432,1866);
  \draw[olivebar] (475,1813) rectangle (493,1866);
  \draw[olivebar] (543,1814) rectangle (562,1866);
  \draw[olivebar] (604,1814) rectangle (622,1866);
  \draw[olivebar] (665,1814) rectangle (683,1866);
  \draw[olivebarb] (457,1881) rectangle (475,1932);
  \draw[olivebarb] (525,1881) rectangle (543,1933);
  \draw[olivebarb] (586,1881) rectangle (604,1933);
  \draw[olivebarb] (647,1881) rectangle (665,1932);

  \node[person,rotate=-90] (pa) at (424,1806) {(O};
  \node[person] (pb) at (404,1822) {(O};
  \node[person] (pc) at (404,1838) {(O};
  \node[person] (pd) at (442,1829) {O)};
  \node[person] (pe) at (442,1852) {O)};
  \node[person,rotate=-90] (pf) at (485,1806) {(O};
  \node[person] (pg) at (466,1823) {(O};
  \node[person] (ph) at (466,1838) {(O};
  \node[person] (pi) at (503,1830) {O)};
  \node[person] (pj) at (503,1852) {O)};
  \node[person,rotate=-90] (pk) at (553,1807) {(O};
  \node[person] (pl) at (533,1823) {(O};
  \node[person] (pm) at (533,1839) {(O};
  \node[person] (pn) at (571,1830) {O)};
  \node[person] (po) at (571,1853) {O)};
  \node[person,rotate=-90] (pp) at (614,1807) {(O};
  \node[person] (pq) at (594,1823) {(O};
  \node[person] (pr) at (594,1839) {(O};
  \node[person] (ps) at (632,1830) {O)};
  \node[person] (pt) at (632,1853) {O)};
  \node[person,rotate=-90] (pu) at (675,1807) {(O};
  \node[person] (pv) at (655,1823) {(O};
  \node[person] (pw) at (655,1838) {(O};
  \node[person] (px) at (693,1830) {O)};
  \node[person] (py) at (693,1853) {O)};
  \node[person] (qa) at (447,1893) {(O};
  \node[person] (qb) at (447,1916) {(O};
  \node[person] (qc) at (483,1907) {O)};
  \node[person] (qd) at (483,1922) {O)};
  \node[person,rotate=90] (qe) at (463,1939) {(O};
  \node[person] (qf) at (515,1893) {(O};
  \node[person] (qg) at (515,1917) {(O};
  \node[person] (qh) at (551,1908) {O)};
  \node[person] (qi) at (551,1923) {O)};
  \node[person,rotate=90] (qj) at (531,1940) {(O};
  \node[person] (qk) at (576,1893) {(O};
  \node[person] (ql) at (576,1917) {(O};
  \node[person] (qm) at (612,1908) {O)};
  \node[person] (qn) at (612,1923) {O)};
  \node[person,rotate=90] (qo) at (592,1940) {(O};
  \node[person] (qp) at (637,1893) {(O};
  \node[person] (qq) at (637,1917) {(O};
  \node[person] (qr) at (673,1907) {O)};
  \node[person] (qs) at (673,1923) {O)};
  \node[person,rotate=90] (qt) at (653,1940) {(O};
  \node[person] (qu) at (732,1873) {O)};
  \node[person] (ra) at (567,1994) {O)};
  \node[person] (rb) at (594,1994) {O)};
  \node[person] (rc) at (626,1994) {O)};
  \node[person] (rd) at (654,1994) {O)};
  \node[person] (re) at (682,1994) {O)};

  \node[person,rotate=-90] (sa) at (778,1858) {(O};
  \node[person,rotate=-90] (sb) at (801,1858) {(O};
  \node[person,rotate=90] (sc) at (778,1890) {(O};
  \node[person,rotate=90] (sd) at (801,1890) {(O};
  \node[person,rotate=-90] (ta) at (850,1858) {(O};
  \node[person,rotate=-90] (tb) at (874,1858) {(O};
  \node[person,rotate=-90] (tc) at (895,1858) {(O};
  \node[person,rotate=-90] (td) at (918,1858) {(O};
  \node[person,rotate=-90] (te) at (943,1858) {(O};
  \node[person,rotate=-90] (tf) at (967,1858) {(O};
  \node[person,rotate=-90] (tg) at (991,1858) {(O};
  \node[person,rotate=-90] (th) at (1014,1858) {(O};
  \node[person,rotate=90] (ua) at (850,1890) {(O};
  \node[person,rotate=90] (ub) at (874,1890) {(O};
  \node[person,rotate=90] (uc) at (895,1890) {(O};
  \node[person,rotate=90] (ud) at (918,1890) {(O};
  \node[person,rotate=90] (ue) at (943,1890) {(O};
  \node[person,rotate=90] (uf) at (967,1890) {(O};
  \node[person,rotate=90] (ug) at (991,1890) {(O};
  \node[person,rotate=90] (uh) at (1014,1890) {(O};
  \node[person,rotate=-90] (va) at (1061,1858) {(O};
  \node[person,rotate=90] (vb) at (1061,1890) {(O};
  \node[person,rotate=-90] (wa) at (1098,1858) {(O};
  \node[person,rotate=90] (wb) at (1099,1892) {(O};
  \node[person] (wc) at (1134,1859) {O)};
  \node[person] (wd) at (1131,1877) {O)};
  \node[person] (we) at (1195,1853) {O)};
  \node[person] (wf) at (1187,1875) {(O};
  \coordinate (boxFrom) at (1236,1854);
  \draw[boxarrow] (boxFrom) -- (we);
  \coordinate (boxMid) at (1176,1854);
  \draw[boxarrow] (boxMid) -- (wc);
  \draw[boxarrow] (wd) -- (wf);
  \coordinate (boxTo) at (1236,1877);
  \draw[boxarrow] (wf) -- (boxTo);
  \coordinate (swapA) at (1115,1867);
  \coordinate (swapB) at (1124,1863);
  \draw[swaparrow] (swapA) -- (swapB);

  \node[txt,font=\fv{1.02}{20}] (lbChange) at (303,1972) {换\\袋\\封\\口};
  \coordinate (changeEnd) at (376,1931);
  \draw[thinarrow] (lbChange.64) -- (changeEnd);
  \node[txt,font=\fs{22}] (lbTrash) at (631,2024) {拆箱收走垃圾};
  \node[txt,font=\fv{1.02}{20}] (lbFold) at (788,1982) {叠\\彩\\盒};
  \node[txt,font=\fv{1.02}{20}] (lbColor) at (929,1982) {装\\彩\\盒};
  \node[txt,font=\fv{1.02}{20}] (lbStack) at (1062,1971) {码\\堆};
  \node[txt,font=\fv{1.02}{20}] (lbBox) at (1164,1971) {装\\箱};
  \draw[thinarrow] (lbFold.north) -- (lbFold.north |- grpFold.south);
  \draw[thinarrow] (lbColor.north) -- (lbColor.north |- grpColor.south);
  \draw[thinarrow] (lbStack.north) -- (lbStack.north |- grpStack.south);
  \draw[thinarrow] (lbBox.north) -- (lbBox.north |- grpBox.south);

  % group sketch
  \node[txt,font=\fs{17},text=red] (groupTitle) at (239,2036) {\underline{小组图示}};
  \draw[fill=white,draw=edgeblue,line width=0.6pt] (195,2053) rectangle (513,2183);
  \draw[olivebarb] (350,2062) rectangle (367,2113);
  \node[person] (ga) at (341,2074) {(O};
  \node[person] (gb) at (341,2097) {(O};
  \node[person] (gc) at (377,2089) {O)};
  \node[person] (gd) at (377,2104) {O)};
  \node[person,rotate=90] (ge) at (358,2121) {(O};
  \node[txt,font=\fs{18}] (lbSeal) at (237,2083) {封口};
  \node[txt,font=\fs{18}] (lbBagR) at (473,2103) {装袋};
  \node[txt,font=\fs{18}] (lbBagL) at (247,2135) {装袋};
  \node[txt,font=\fs{18}] (lbCount) at (423,2141) {点数};
  \node[txt,font=\fs{18}] (lbOpen) at (345,2165) {拆袋};
  \draw[thinarrow] (lbSeal) -- (ga);
  \draw[thinarrow] (lbBagL) -- (gb);
  \draw[thinarrow] (lbOpen) -- (ge);
  \draw[thinarrow] (lbCount) -- (gd);
  \draw[thinarrow] (lbBagR) -- (gc);
  \draw[deeproom] (524,2053) rectangle (723,2183);
  \node[wtxt,font=\fs{20}] (unpackArea) at (623,2118) {待拆箱存放区};

  \node[staff] (staffA) at (803,2073) {·拆箱、搬运、清理垃圾5人};
  \node[staff] (staffB) at (803,2089) {·拆袋1人，点数1人，装袋2人，封口1人，每组5人，9组人共45人；};
  \node[staff] (staffC) at (811,2105) {皮带拉尾部的换框点数1人；};
  \node[staff] (staffD) at (803,2120) {·叠彩盒5人、 装彩盒16人、印合格证1人、皮带拉末尾码堆2人};
  \node[staff] (staffE) at (803,2137) {·拉包材1人、封空箱1人、装箱2人，封满箱盖章1人、成品入仓1人};
  \node[staff] (staffF) at (803,2152) {·每班次：81人};

  % page foot
  \draw[draw=titleblue,line width=0.5pt] (56,2233) -- (1602,2233);
  \node[ltxt,font=\fs{19.6},text=inkgray] (pagefoot) at (60,2259) {版权保护申明：未取得原作者本人@陈铁强 13925559701 的书面同意，本作品整体或内容均不得用于任何商业用途。};
\end{tikzpicture}
\end{document}
